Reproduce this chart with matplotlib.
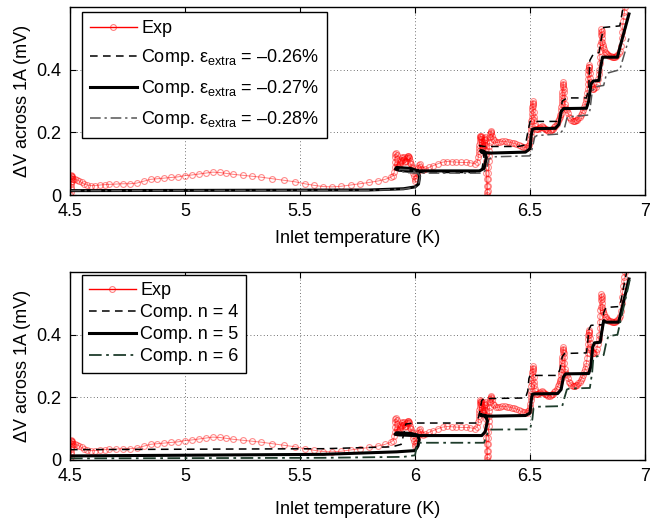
import numpy as np
import matplotlib
matplotlib.use("Agg")
import matplotlib.pyplot as plt
from matplotlib.lines import Line2D
from matplotlib.ticker import FuncFormatter

plt.rcParams['font.family'] = ['Liberation Sans', 'DejaVu Sans']
plt.rcParams['mathtext.fontset'] = 'custom'
plt.rcParams['mathtext.rm'] = 'Liberation Sans'
plt.rcParams['mathtext.it'] = 'Liberation Sans'

# experimental data (inlet temperature K, voltage mV)
exp_T = [4.502, 4.503, 4.503, 4.504, 4.504, 4.505, 4.506, 4.507, 4.506, 4.505, 4.507, 4.508, 4.51, 4.515,
         4.522, 4.53, 4.54, 4.55, 4.56, 4.575, 4.59, 4.61, 4.63, 4.65, 4.67, 4.7, 4.73, 4.76, 4.79, 4.82,
         4.85, 4.88, 4.91, 4.94, 4.97, 5.0, 5.03, 5.06, 5.09, 5.12, 5.15, 5.18, 5.21, 5.25, 5.29, 5.33,
         5.38, 5.43, 5.48, 5.52, 5.56, 5.6, 5.64, 5.68, 5.72, 5.76, 5.8, 5.84, 5.87, 5.895, 5.905,
         # step near 6.0
         5.91, 5.912, 5.913, 5.914, 5.915, 5.918, 5.921, 5.922, 5.922, 5.925, 5.928, 5.93, 5.933, 5.935,
         5.938, 5.94, 5.943, 5.945, 5.948, 5.95, 5.953, 5.955, 5.958, 5.96, 5.963, 5.965, 5.968, 5.97,
         5.973, 5.975, 5.978, 5.98, 5.982, 5.985, 5.988, 5.99, 5.993, 5.996, 5.999, 6.001, 6.004, 6.008,
         6.012, 6.016, 6.02, 6.023, 6.028, 6.035, 6.045, 6.06, 6.08, 6.1, 6.12, 6.14, 6.16, 6.18, 6.2,
         6.22, 6.24, 6.26, 6.27,
         # step near 6.3
         6.275, 6.277, 6.278, 6.279, 6.28, 6.281, 6.282, 6.283, 6.284, 6.285, 6.287, 6.288, 6.29, 6.291,
         6.292, 6.294, 6.295, 6.297, 6.298, 6.299, 6.3, 6.301, 6.302, 6.303, 6.304, 6.305, 6.306, 6.307,
         6.308, 6.309, 6.31, 6.311, 6.312, 6.313, 6.314, 6.315, 6.316, 6.317, 6.318, 6.319, 6.32, 6.321,
         6.322, 6.323, 6.324, 6.326, 6.328, 6.329, 6.331, 6.332, 6.335, 6.34, 6.345, 6.35, 6.36, 6.37,
         6.38, 6.39, 6.4, 6.41, 6.42, 6.43, 6.44, 6.45, 6.46, 6.47, 6.48, 6.485, 6.49, 6.495,
         # step near 6.5
         6.498, 6.5, 6.502, 6.503, 6.504, 6.505, 6.506, 6.507, 6.508, 6.509, 6.51, 6.511, 6.512, 6.513,
         6.514, 6.515, 6.516, 6.518, 6.52, 6.523, 6.526, 6.53, 6.535, 6.54, 6.545, 6.55, 6.555, 6.56, 6.565,
         6.57, 6.575, 6.58, 6.585, 6.59, 6.595, 6.6, 6.605, 6.61, 6.615, 6.62, 6.625, 6.63,
         # step near 6.64
         6.632, 6.634, 6.635, 6.636, 6.637, 6.638, 6.639, 6.64, 6.641, 6.642, 6.643, 6.644, 6.645, 6.646,
         6.647, 6.648, 6.65, 6.653, 6.656, 6.66, 6.665, 6.67, 6.675, 6.68, 6.685, 6.69, 6.695, 6.7, 6.705,
         6.71, 6.715, 6.72, 6.725, 6.73, 6.735, 6.74, 6.743, 6.745, 6.748, 6.75,
         # steps near 6.76 and 6.81
         6.751, 6.752, 6.753, 6.754, 6.755, 6.756, 6.757, 6.758, 6.759, 6.76, 6.762, 6.765, 6.768, 6.772,
         6.775, 6.78, 6.785, 6.79, 6.795, 6.798, 6.8, 6.802, 6.803, 6.804, 6.806, 6.807, 6.808, 6.809,
         6.81, 6.811, 6.812, 6.813, 6.814, 6.816, 6.818, 6.82, 6.825, 6.83, 6.835, 6.84, 6.845, 6.85,
         6.855, 6.86, 6.865, 6.87, 6.875, 6.88, 6.885, 6.89, 6.894, 6.898, 6.9, 6.903, 6.905, 6.908,
         6.91, 6.912, 6.915]
exp_V = [0.0, 0.01, 0.025, 0.04, 0.055, 0.065, 0.06, 0.05, 0.035, 0.02, 0.045, 0.062, 0.058, 0.052,
         0.05, 0.048, 0.045, 0.04, 0.036, 0.032, 0.03, 0.03, 0.032, 0.033, 0.034, 0.035, 0.036, 0.036, 0.038, 0.044,
         0.05, 0.052, 0.054, 0.056, 0.058, 0.062, 0.064, 0.067, 0.07, 0.073, 0.072, 0.069, 0.066, 0.063, 0.06, 0.057,
         0.052, 0.047, 0.042, 0.036, 0.031, 0.027, 0.026, 0.028, 0.032, 0.036, 0.04, 0.045, 0.05, 0.057, 0.062,
         # step near 6.0
         0.075, 0.09, 0.105, 0.12, 0.13, 0.135, 0.128, 0.115, 0.1, 0.092, 0.088, 0.095, 0.1, 0.105,
         0.112, 0.11, 0.118, 0.12, 0.112, 0.12, 0.115, 0.108, 0.104, 0.11, 0.118, 0.12, 0.126, 0.125,
         0.118, 0.12, 0.108, 0.102, 0.098, 0.09, 0.085, 0.08, 0.07, 0.06, 0.05, 0.045, 0.055, 0.07,
         0.085, 0.095, 0.1, 0.09, 0.082, 0.08, 0.082, 0.088, 0.094, 0.1, 0.105, 0.107, 0.106, 0.105, 0.104,
         0.104, 0.103, 0.1, 0.105,
         # step near 6.3
         0.12, 0.13, 0.14, 0.15, 0.16, 0.17, 0.18, 0.186, 0.19, 0.187, 0.185, 0.178, 0.17, 0.162,
         0.155, 0.15, 0.152, 0.158, 0.16, 0.168, 0.175, 0.182, 0.185, 0.18, 0.175, 0.16, 0.145, 0.13,
         0.11, 0.09, 0.07, 0.05, 0.03, 0.01, 0.0, 0.012, 0.03, 0.05, 0.07, 0.09, 0.11, 0.125,
         0.14, 0.155, 0.17, 0.185, 0.195, 0.2, 0.205, 0.198, 0.19, 0.18, 0.175, 0.168, 0.168, 0.17,
         0.172, 0.171, 0.17, 0.169, 0.167, 0.165, 0.163, 0.16, 0.155, 0.153, 0.152, 0.15, 0.155, 0.16,
         # step near 6.5
         0.17, 0.18, 0.19, 0.2, 0.21, 0.22, 0.235, 0.245, 0.26, 0.27, 0.28, 0.29, 0.3, 0.295,
         0.285, 0.265, 0.25, 0.24, 0.228, 0.22, 0.212, 0.21, 0.212, 0.215, 0.218, 0.22, 0.218, 0.215,
         0.212, 0.21, 0.207, 0.205, 0.205, 0.207, 0.21, 0.212, 0.216, 0.22, 0.228, 0.235, 0.242, 0.25,
         # step near 6.64
         0.255, 0.26, 0.27, 0.28, 0.29, 0.3, 0.31, 0.32, 0.33, 0.345, 0.355, 0.36, 0.35, 0.34,
         0.33, 0.31, 0.29, 0.28, 0.275, 0.27, 0.262, 0.25, 0.245, 0.24, 0.236, 0.235, 0.235, 0.238,
         0.24, 0.245, 0.25, 0.255, 0.262, 0.27, 0.28, 0.29, 0.3, 0.31, 0.325, 0.34,
         # steps near 6.76 and 6.81
         0.355, 0.37, 0.385, 0.4, 0.41, 0.415, 0.41, 0.4, 0.39, 0.375, 0.36, 0.35, 0.345, 0.34,
         0.34, 0.343, 0.345, 0.355, 0.37, 0.385, 0.4, 0.42, 0.44, 0.46, 0.48, 0.49, 0.51, 0.52,
         0.53, 0.525, 0.515, 0.5, 0.49, 0.48, 0.472, 0.465, 0.458, 0.455, 0.45, 0.447, 0.445, 0.443,
         0.442, 0.44, 0.44, 0.442, 0.445, 0.448, 0.452, 0.46, 0.475, 0.5, 0.52, 0.54, 0.555, 0.57,
         0.585, 0.6, 0.62]

# computed curves, top panel (extra strain)
e27_T = [4.5, 5.8, 5.95, 6.0, 6.015, 6.02, 6.01, 5.98, 5.92, 5.915, 5.93, 6.0, 6.28, 6.3, 6.31, 6.3,
         6.285, 6.29, 6.33, 6.48, 6.5, 6.505, 6.51, 6.52, 6.61, 6.625, 6.635, 6.645, 6.745, 6.755, 6.765,
         6.775, 6.8, 6.805, 6.815, 6.82, 6.88, 6.89, 6.93]
e27_V = [0.014, 0.016, 0.02, 0.026, 0.035, 0.06, 0.078, 0.085, 0.088, 0.083, 0.079, 0.077, 0.077, 0.085, 0.12, 0.14,
         0.142, 0.136, 0.134, 0.137, 0.148, 0.19, 0.21, 0.212, 0.213, 0.225, 0.265, 0.276, 0.277, 0.3, 0.355,
         0.364, 0.366, 0.4, 0.44, 0.44, 0.44, 0.47, 0.578]
e26_T = [4.5, 5.8, 5.95, 6.0, 6.015, 6.02, 6.01, 5.98, 5.93, 5.925, 5.95, 6.0, 6.27, 6.29, 6.3, 6.29,
         6.28, 6.3, 6.45, 6.48, 6.49, 6.5, 6.62, 6.63, 6.64, 6.66, 6.745, 6.755, 6.76, 6.775, 6.8, 6.81,
         6.82, 6.89, 6.91]
e26_V = [0.015, 0.016, 0.02, 0.026, 0.035, 0.06, 0.075, 0.082, 0.085, 0.08, 0.075, 0.072, 0.072, 0.08, 0.12, 0.155,
         0.158, 0.155, 0.155, 0.16, 0.2, 0.235, 0.235, 0.25, 0.3, 0.31, 0.31, 0.34, 0.43, 0.45, 0.455, 0.5,
         0.535, 0.54, 0.62]
e28_T = [4.5, 5.8, 5.95, 6.0, 6.015, 6.022, 6.012, 5.98, 5.935, 5.93, 5.96, 6.0, 6.29, 6.31, 6.32, 6.34,
         6.5, 6.51, 6.52, 6.53, 6.63, 6.65, 6.66, 6.67, 6.75, 6.76, 6.77, 6.78, 6.82, 6.83, 6.84, 6.89, 6.93]
e28_V = [0.014, 0.015, 0.019, 0.025, 0.033, 0.06, 0.072, 0.08, 0.082, 0.077, 0.072, 0.07, 0.07, 0.08, 0.115, 0.122,
         0.125, 0.15, 0.185, 0.19, 0.195, 0.215, 0.245, 0.25, 0.255, 0.27, 0.33, 0.345, 0.35, 0.38, 0.39, 0.4, 0.5]

# computed curves, bottom panel (n value)
n5_T = [4.5, 5.6, 5.92, 6.0, 6.013, 6.018, 6.01, 5.98, 5.92, 5.913, 5.93, 6.0, 6.29, 6.305, 6.315,
        6.305, 6.283, 6.29, 6.33, 6.48, 6.5, 6.505, 6.51, 6.52, 6.62, 6.635, 6.645, 6.655, 6.755, 6.765,
        6.772, 6.78, 6.805, 6.812, 6.82, 6.83, 6.885, 6.895, 6.93]
n5_V = [0.013, 0.018, 0.026, 0.03, 0.045, 0.065, 0.08, 0.085, 0.087, 0.082, 0.08, 0.078, 0.078, 0.09, 0.125,
        0.142, 0.145, 0.141, 0.14, 0.142, 0.15, 0.19, 0.21, 0.211, 0.212, 0.225, 0.265, 0.275, 0.276, 0.3,
        0.36, 0.374, 0.376, 0.41, 0.445, 0.44, 0.44, 0.47, 0.578]
n4_T = [4.5, 5.6, 5.9, 5.94, 5.95, 5.96, 6.0, 6.27, 6.28, 6.29, 6.3, 6.48, 6.49, 6.495, 6.5, 6.62,
        6.63, 6.64, 6.65, 6.745, 6.75, 6.755, 6.765, 6.815, 6.82, 6.83, 6.89, 6.92]
n4_V = [0.033, 0.036, 0.042, 0.05, 0.08, 0.115, 0.118, 0.118, 0.15, 0.19, 0.196, 0.198, 0.22, 0.26, 0.27, 0.27,
        0.29, 0.33, 0.34, 0.342, 0.37, 0.415, 0.43, 0.432, 0.47, 0.487, 0.49, 0.6]
n6_T = [4.5, 5.6, 5.95, 6.0, 6.005, 6.01, 6.02, 6.3, 6.31, 6.32, 6.33, 6.5, 6.51, 6.515, 6.53, 6.64,
        6.65, 6.66, 6.67, 6.76, 6.77, 6.775, 6.785, 6.82, 6.83, 6.84, 6.88, 6.935]
n6_V = [0.005, 0.007, 0.01, 0.015, 0.035, 0.05, 0.055, 0.055, 0.075, 0.095, 0.097, 0.098, 0.13, 0.165, 0.17, 0.172,
        0.2, 0.225, 0.228, 0.23, 0.28, 0.325, 0.33, 0.335, 0.37, 0.395, 0.4, 0.58]

xticks = [4.5, 5, 5.5, 6, 6.5, 7]
yticks = [0, 0.2, 0.4]

exp_style = dict(color=(1, 0, 0, 0.5), lw=0.7, marker='o', ms=4.2, mfc='none',
                 mec=(1, 0, 0, 0.45), mew=0.8)
exp_handle = Line2D([], [], color='red', lw=1.0, marker='o', ms=4.2, mfc='none',
                    mec=(1, 0, 0, 0.5), mew=0.8)

fig = plt.figure(figsize=(6.61, 5.22), dpi=100)
ax1 = fig.add_axes([0.1059, 0.6264, 0.870, 0.360])
ax2 = fig.add_axes([0.1059, 0.1188, 0.870, 0.360])

# top
ax1.plot(exp_T, exp_V, **exp_style)
h26, = ax1.plot(e26_T, e26_V, color='black', lw=1.1, ls=(0, (5, 3.5)))
h27, = ax1.plot(e27_T, e27_V, color='black', lw=2.2)
h28, = ax1.plot(e28_T, e28_V, color='#555555', lw=1.1, ls=(0, (7, 2.5, 1.5, 2.5)))
top_labels = ['Exp',
              'Comp. $\\mathregular{ε_{extra}}$ = \u20130.26%',
              'Comp. $\\mathregular{ε_{extra}}$ = \u20130.27%',
              'Comp. $\\mathregular{ε_{extra}}$ = \u20130.28%']

# bottom
ax2.plot(exp_T, exp_V, **exp_style)
h4, = ax2.plot(n4_T, n4_V, color='black', lw=1.1, ls=(0, (5, 3.5)))
h5, = ax2.plot(n5_T, n5_V, color='black', lw=2.2)
h6, = ax2.plot(n6_T, n6_V, color='#1f3d2c', lw=1.3, ls=(0, (7, 2.5, 1.5, 2.5)))
bot_labels = ['Exp', 'Comp. n = 4', 'Comp. n = 5', 'Comp. n = 6']

fmt = FuncFormatter(lambda v, p: ('%g' % v))
panels = ((ax1, [exp_handle, h26, h27, h28], top_labels, 0.55, 0.45, 0.973, 7),
          (ax2, [exp_handle, h4, h5, h6], bot_labels, 0.28, 0.4, 0.984, 11))
for ax, hs, labs, lsp, bpad, ytop, xlp in panels:
    ax.set_xlim(4.5, 7)
    ax.set_ylim(0, 0.6)
    ax.set_xticks(xticks)
    ax.set_yticks(yticks)
    ax.xaxis.set_major_formatter(fmt)
    ax.yaxis.set_major_formatter(fmt)
    ax.tick_params(direction='in', top=True, right=True, length=4, width=0.8,
                   labelsize=13, pad=6)
    ax.grid(True, ls=(0, (1, 3)), color='#444444', lw=0.6)
    for s in ax.spines.values():
        s.set_linewidth(1.0)
    ax.set_xlabel('Inlet temperature (K)', fontsize=13, labelpad=xlp)
    ax.set_ylabel('\u0394V across 1A (mV)', fontsize=13, labelpad=4)
    leg = ax.legend(hs, labs, loc='upper left', bbox_to_anchor=(0.02, ytop), borderaxespad=0,
                    fontsize=13, handlelength=2.6, handletextpad=0.25, labelspacing=lsp,
                    borderpad=bpad, fancybox=False, framealpha=1, edgecolor='black')
    leg.get_frame().set_linewidth(1.0)

fig.savefig('out.png', dpi=100)
